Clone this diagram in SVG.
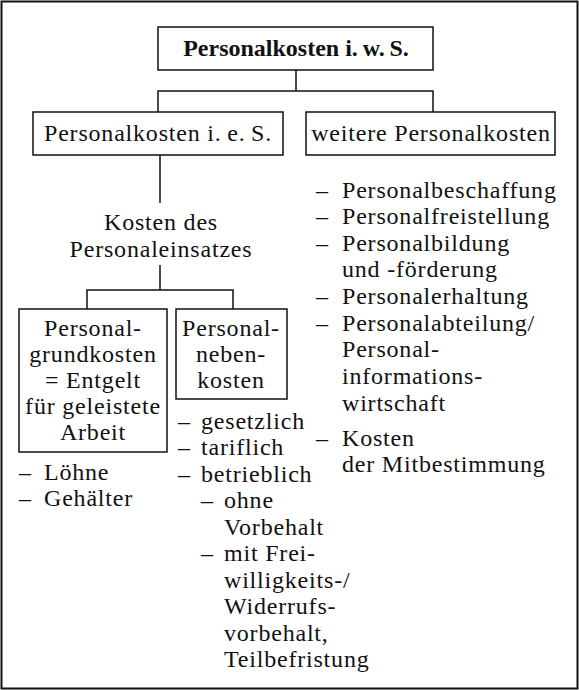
<svg xmlns="http://www.w3.org/2000/svg" width="579" height="690" viewBox="0 0 579 690">
<style>
text{font-family:"Liberation Serif","Times New Roman",serif;font-size:24px;letter-spacing:0.8px;fill:#111}
.c{text-anchor:middle}
.b{font-weight:bold;letter-spacing:0}
.box{fill:#fff;stroke:#111;stroke-width:1.5}
.ln{fill:none;stroke:#111;stroke-width:1.5}
</style>
<rect x="1.5" y="1.5" width="576" height="687" fill="#fff" stroke="#111" stroke-width="2"/>
<g id="connectors" class="ln">
<path d="M296 70V91M158 112V91H433V112"/>
<path d="M160 155V203"/>
<path d="M160 265V290M87 309V290H233V309"/>
</g>
<g id="n-iws">
<rect class="box" x="158" y="27" width="275" height="43"/>
<text class="c b" x="296" y="56">Personalkosten i.&#8201;w.&#8201;S.</text>
</g>
<g id="n-ies">
<rect class="box" x="33" y="112" width="250" height="43"/>
<text class="c" x="158" y="141">Personalkosten i.&#8201;e.&#8201;S.</text>
</g>
<g id="n-weitere">
<rect class="box" x="306" y="112" width="249" height="43"/>
<text class="c" x="431" y="141">weitere Personalkosten</text>
</g>
<g id="n-einsatz">
<text class="c" x="161" y="230">Kosten des</text>
<text class="c" x="161" y="257">Personaleinsatzes</text>
</g>
<g id="n-grund">
<rect class="box" x="19" y="309" width="148" height="143"/>
<text class="c" x="93" y="336">Personal-</text>
<text class="c" x="93" y="362">grundkosten</text>
<text class="c" x="93" y="388">= Entgelt</text>
<text class="c" x="93" y="414">für geleistete</text>
<text class="c" x="93" y="440">Arbeit</text>
</g>
<g id="n-neben">
<rect class="box" x="176" y="309" width="111" height="90"/>
<text class="c" x="231" y="336">Personal-</text>
<text class="c" x="231" y="362">neben-</text>
<text class="c" x="231" y="388">kosten</text>
</g>
<g id="list-grund">
<text x="19" y="480">–</text><text x="44" y="480">Löhne</text>
<text x="19" y="506">–</text><text x="44" y="506">Gehälter</text>
</g>
<g id="list-neben">
<text x="178" y="429">–</text><text x="201" y="429">gesetzlich</text>
<text x="178" y="455">–</text><text x="201" y="455">tariflich</text>
<text x="178" y="482">–</text><text x="201" y="482">betrieblich</text>
<text x="201" y="508">–</text><text x="224" y="508">ohne</text>
<text x="224" y="535">Vorbehalt</text>
<text x="201" y="561">–</text><text x="224" y="561">mit Frei-</text>
<text x="224" y="588">willigkeits-/</text>
<text x="224" y="614">Widerrufs-</text>
<text x="224" y="641">vorbehalt,</text>
<text x="224" y="667">Teilbefristung</text>
</g>
<g id="list-weitere">
<text x="316" y="198">–</text><text x="342" y="198">Personalbeschaffung</text>
<text x="316" y="224">–</text><text x="342" y="224">Personalfreistellung</text>
<text x="316" y="251">–</text><text x="342" y="251">Personalbildung</text>
<text x="342" y="277">und -förderung</text>
<text x="316" y="304">–</text><text x="342" y="304">Personalerhaltung</text>
<text x="316" y="331">–</text><text x="342" y="331">Personalabteilung/</text>
<text x="342" y="357">Personal-</text>
<text x="342" y="384">informations-</text>
<text x="342" y="411">wirtschaft</text>
<text x="316" y="446">–</text><text x="342" y="446">Kosten</text>
<text x="342" y="472">der Mitbestimmung</text>
</g>
</svg>
